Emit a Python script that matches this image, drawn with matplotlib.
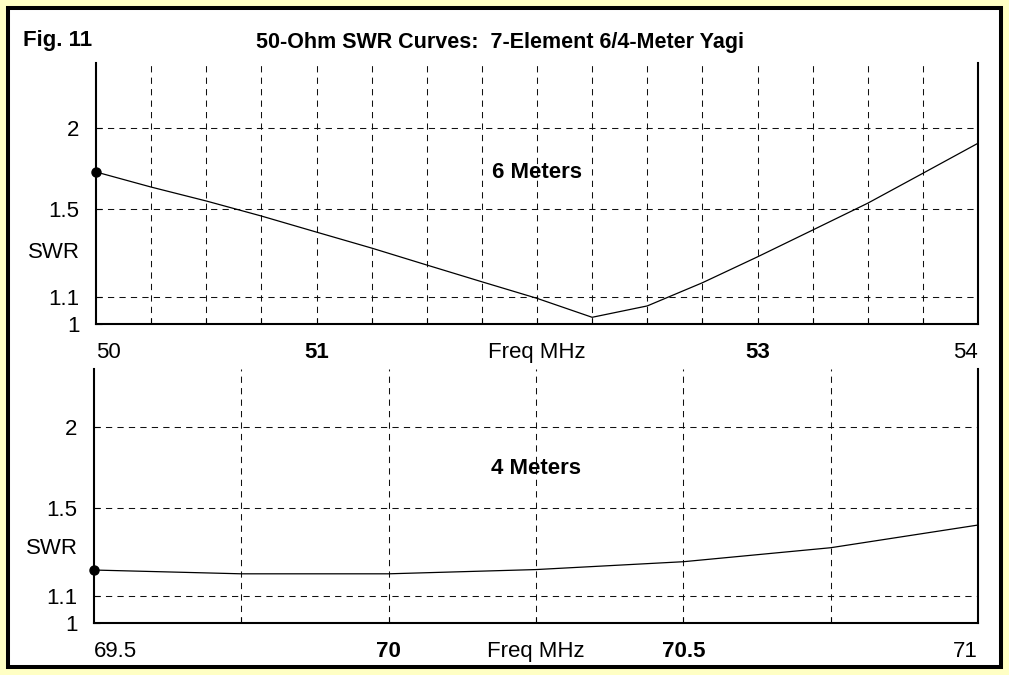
import matplotlib
matplotlib.use("Agg")
import matplotlib.pyplot as plt
from matplotlib.patches import Rectangle
from matplotlib.ticker import NullLocator

plt.rcParams['font.family'] = ['Liberation Sans', 'DejaVu Sans']

# 6 meter band
freq6 = [50.0, 50.25, 50.5, 50.75, 51.0, 51.25, 51.5, 51.75, 52.0,
         52.25, 52.5, 52.75, 53.0, 53.25, 53.5, 53.75, 54.0]
swr6 = [1.712, 1.623, 1.545, 1.465, 1.384, 1.308, 1.232, 1.161, 1.095,
        1.024, 1.066, 1.157, 1.268, 1.394, 1.533, 1.704, 1.895]

# 4 meter band
freq4 = [69.5, 69.75, 70.0, 70.25, 70.5, 70.75, 71.0]
swr4 = [1.206, 1.190, 1.190, 1.208, 1.242, 1.305, 1.414]

swr_ticks = [1, 1.1, 1.5, 2]
swr_labels = ['1', '1.1', '1.5', '2']

x6_ticks = [50, 51, 52, 53, 54]
x6_labels = ['50', '51', 'Freq MHz', '53', '54']
x6_grid = [50.25 + 0.25 * i for i in range(15)]

x4_ticks = [69.5, 70, 70.25, 70.5, 71]
x4_labels = ['69.5', '70', 'Freq MHz', '70.5', '71']
x4_grid = [69.75, 70.0, 70.25, 70.5, 70.75]

W, H = 1009, 675
fig = plt.figure(figsize=(W / 100, H / 100), dpi=100)
fig.patch.set_facecolor('#FFFFC4')

# black frame with white inside
frame = Rectangle((8 / W, 8 / H), (1001 - 8) / W, (667 - 8) / H,
                  transform=fig.transFigure, facecolor='white',
                  edgecolor='black', linewidth=2.9, zorder=-10)
fig.add_artist(frame)


def panel(rect, xs, ys, xlim, ytop, ticks, labels, grid, band, band_x, band_y):
    ax = fig.add_axes(rect)
    ax.set_facecolor('none')
    ax.plot(xs, ys, color='black', lw=0.9, zorder=3)
    ax.plot(xs[:1], ys[:1], 'o', color='black', ms=6.5, clip_on=False, zorder=4)
    ax.set_yscale('log')
    ax.set_xlim(*xlim)
    ax.set_ylim(1, ytop)
    ax.yaxis.set_minor_locator(NullLocator())
    ax.set_yticks(swr_ticks)
    ax.set_yticklabels(swr_labels)
    ax.xaxis.remove_overlapping_locs = False
    ax.set_xticks(ticks)
    ax.set_xticklabels(labels)
    ax.set_xticks(grid, minor=True)
    ax.grid(True, which='minor', axis='x', color='#111111', lw=0.75,
            linestyle=(0, (6, 5)))
    ax.grid(True, which='major', axis='y', color='#111111', lw=0.75,
            linestyle=(0, (6, 5)))
    ax.tick_params(axis='x', which='major', length=0, pad=13, labelsize=16)
    ax.tick_params(axis='x', which='minor', length=4, direction='in', width=0.8)
    ax.tick_params(axis='y', length=4, direction='in', width=0.8, pad=12,
                   labelsize=16)
    tl = ax.get_xticklabels()
    tl[0].set_ha('left')
    tl[-1].set_ha('right')
    tl[1].set_fontweight('bold')
    tl[3].set_fontweight('bold')
    ax.spines['top'].set_visible(False)
    for s in ('left', 'right', 'bottom'):
        ax.spines[s].set_linewidth(1.5)
    ax.set_ylabel('SWR', rotation=0, ha='right', va='center', fontsize=16)
    ax.yaxis.set_label_coords(-16 / (rect[2] * W), band_y[1])
    ax.text(band_x, band_y[0], band, transform=ax.get_xaxis_transform(),
            ha='center', va='baseline', fontsize=16, fontweight='bold')
    return ax


panel([96 / W, (H - 324) / H, (978 - 96) / W, (324 - 63) / H],
      freq6, swr6, (50, 54), 2 ** (261 / 196), x6_ticks, x6_labels, x6_grid,
      '6 Meters', 52.0, ((324 - 178) / 261, (324 - 253) / 261))

panel([94 / W, (H - 623) / H, (978 - 94) / W, (623 - 369) / H],
      freq4, swr4, (69.5, 71), 2 ** (254 / 196), x4_ticks, x4_labels, x4_grid,
      '4 Meters', 70.25, ((623 - 474) / 254, (623 - 549) / 254))

fig.text(23 / W, 1 - 46 / H, 'Fig. 11', ha='left', va='baseline',
         fontsize=16, fontweight='bold')
fig.text(500 / W, 1 - 48 / H, '50-Ohm SWR Curves:  7-Element 6/4-Meter Yagi',
         ha='center', va='baseline', fontsize=15.5, fontweight='bold')

fig.savefig('out.png', dpi=100, facecolor=fig.get_facecolor())
